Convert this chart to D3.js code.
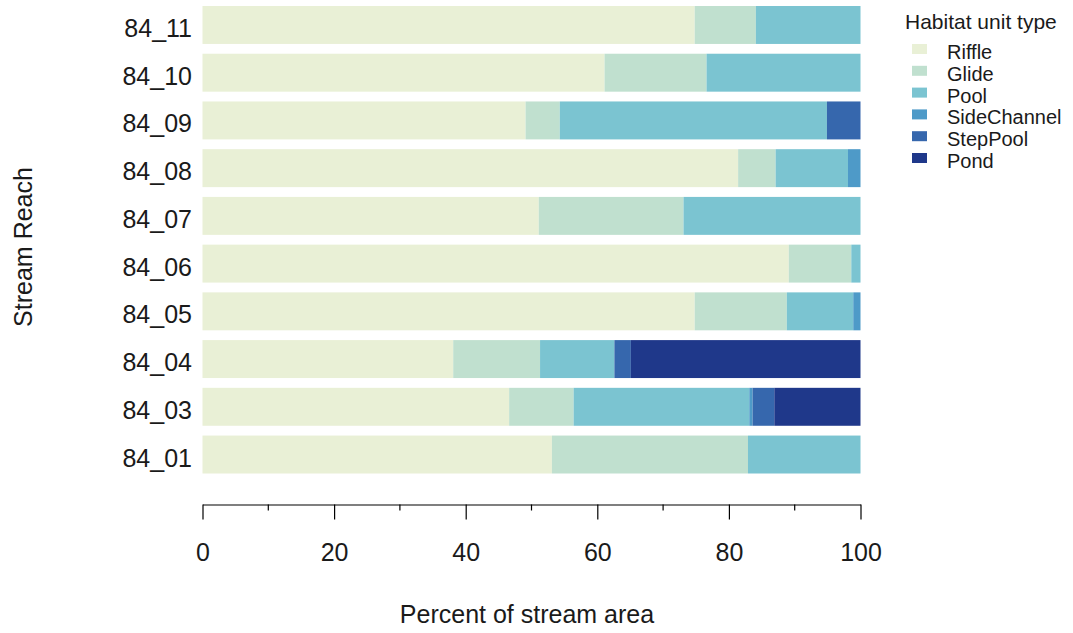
<!DOCTYPE html>
<html>
<head>
<meta charset="utf-8">
<script src="https://cdn.jsdelivr.net/npm/d3@7"></script>
<style>
body { margin: 0; background: #fff; }
svg { display: block; font-family: "Liberation Sans", Arial, sans-serif; }
</style>
</head>
<body>
<svg id="chart" width="1073" height="633"></svg>
<script>
const reaches = ["84_11","84_10","84_09","84_08","84_07","84_06","84_05","84_04","84_03","84_01"];
const types = ["Riffle","Glide","Pool","SideChannel","StepPool","Pond"];
const colors = ["#e9f0d6","#c0e0cf","#7bc4d1","#4e9ac8","#3667ad","#1f388a"];
const riffle      = [74.8, 61.1, 49.1, 81.4, 51.1, 89.1, 74.8, 38.1, 46.6, 53.1];
const glide       = [ 9.3, 15.5,  5.2,  5.7, 22.0,  9.5, 14.0, 13.2,  9.8, 29.8];
const pool        = [15.9, 23.4, 40.6, 11.0, 26.9,  1.4, 10.1, 11.3, 26.7, 17.1];
const sideChannel = [ 0,    0,    0,    1.9,  0,    0,    1.1,  0,    0.5,  0  ];
const stepPool    = [ 0,    0,    5.1,  0,    0,    0,    0,    2.5,  3.3,  0  ];
const pond        = [ 0,    0,    0,    0,    0,    0,    0,   34.9, 13.1,  0  ];
const xTicks = [0, 20, 40, 60, 80, 100];
const xMinorTicks = [10, 30, 50, 70, 90];

const series = [riffle, glide, pool, sideChannel, stepPool, pond];
const rows = reaches.map((r, i) => {
  const o = {reach: r};
  types.forEach((t, j) => o[t] = series[j][i]);
  return o;
});

const svg = d3.select("#chart");
const x = d3.scaleLinear().domain([0, 100]).range([202.5, 860.5]);
const y = d3.scaleBand().domain(reaches).range([6, 473.5]).paddingInner(0.205).paddingOuter(0);
const color = d3.scaleOrdinal().domain(types).range(colors);

const stacked = d3.stack().keys(types)(rows);

svg.append("g").selectAll("g").data(stacked).join("g")
  .attr("fill", d => color(d.key))
  .selectAll("rect").data(d => d).join("rect")
  .attr("x", d => x(d[0]))
  .attr("y", d => y(d.data.reach))
  .attr("width", d => Math.max(0, x(d[1]) - x(d[0])))
  .attr("height", y.bandwidth());

const FF = "Liberation Sans, Arial, sans-serif";
const TXT = "#1a1a1a";

// x axis
const axisY = 504.5;
const xAxis = svg.append("g").attr("transform", `translate(0,${axisY})`);
xAxis.call(d3.axisBottom(x).tickValues(xTicks).tickSize(15).tickSizeOuter(0).tickPadding(0).tickFormat(d3.format("d")));
xAxis.select(".domain").attr("stroke", "#000").attr("stroke-width", 1.2);
xAxis.selectAll(".tick line").attr("stroke", "#000").attr("stroke-width", 1.2);
xAxis.selectAll(".tick text").attr("font-size", 25).attr("fill", TXT).attr("font-family", FF)
  .attr("y", 56.5).attr("dy", null);
xAxis.selectAll(".minor").data(xMinorTicks).join("line")
  .attr("class", "minor")
  .attr("x1", d => x(d)).attr("x2", d => x(d))
  .attr("y1", 0).attr("y2", 6)
  .attr("stroke", "#000").attr("stroke-width", 1.2);

// y labels
const yAxis = svg.append("g").attr("transform", "translate(192,0)");
yAxis.call(d3.axisLeft(y).tickSize(0).tickPadding(0));
yAxis.select(".domain").remove();
yAxis.selectAll(".tick text").attr("font-size", 25).attr("fill", TXT).attr("font-family", FF)
  .attr("dy", "0.48em");

// axis titles
svg.append("text").attr("x", 527).attr("y", 623).attr("text-anchor", "middle")
  .attr("font-size", 25).attr("fill", TXT).text("Percent of stream area");
svg.append("text").attr("transform", "translate(32,247) rotate(-90)").attr("text-anchor", "middle")
  .attr("font-size", 25).attr("fill", TXT).text("Stream Reach");

// legend
const lg = svg.append("g");
lg.append("text").attr("x", 905).attr("y", 29).attr("font-size", 21).attr("fill", TXT).text("Habitat unit type");
const items = lg.selectAll("g.item").data(types).join("g").attr("class", "item")
  .attr("transform", (d, i) => `translate(912,${44 + i * 21.8})`);
items.append("rect").attr("x", 0).attr("y", 0).attr("width", 15).attr("height", 10).attr("fill", d => color(d));
items.append("text").attr("x", 35).attr("y", 15).attr("font-size", 20).attr("fill", TXT).text(d => d);
</script>
</body>
</html>
